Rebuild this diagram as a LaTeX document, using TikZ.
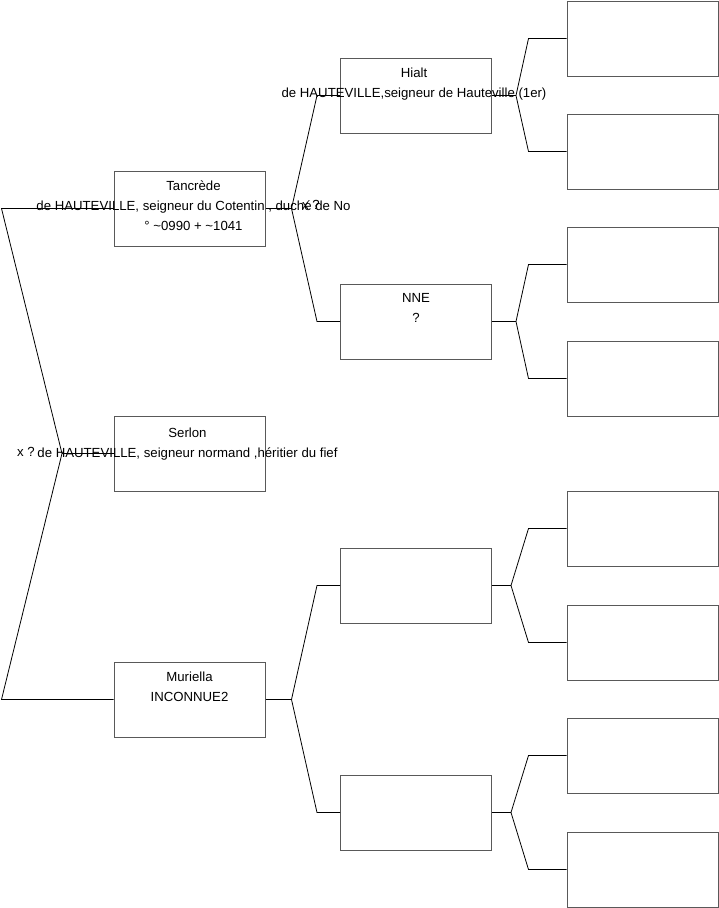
\documentclass[tikz,border=0pt]{standalone}
\usepackage{fontspec}
\setmainfont{Liberation Sans}
\usetikzlibrary{positioning}
\tikzset{
  personbox/.style={draw=black!65, line width=1pt, minimum width=151pt, minimum height=75pt, inner sep=0pt},
  persontext/.style={anchor=base, align=center, inner sep=0pt, font=\fontsize{13.2}{20}\selectfont},
  spouselabel/.style={inner sep=0pt, font=\fontsize{13.2}{14}\selectfont},
  linkline/.style={line width=0.8pt}
}

\begin{document}
\begin{tikzpicture}[x=1pt, y=-1pt]
  \useasboundingbox (0,0) rectangle (719,908);
  % generation 1
  \node[personbox] (tan) at (189.5,208.5) {};
  \node[personbox] (ser) at (189.5,453.5) {};
  \node[personbox] (mur) at (189.5,699.5) {};
  % generation 2
  \node[personbox] (hia) at (416,95.5) {};
  \node[personbox] (nne) at (416,321.5) {};
  \node[personbox] (mfa) at (416,585.5) {};
  \node[personbox] (mmo) at (416,812.5) {};
  % generation 3
  \node[personbox] (a1) at (642.5,38.5) {};
  \node[personbox] (a2) at (642.5,151.5) {};
  \node[personbox] (a3) at (642.5,264.5) {};
  \node[personbox] (a4) at (642.5,378.5) {};
  \node[personbox] (a5) at (642.5,528.5) {};
  \node[personbox] (a6) at (642.5,642.5) {};
  \node[personbox] (a7) at (642.5,755.5) {};
  \node[personbox] (a8) at (642.5,869.5) {};

  % links
  \coordinate (j0) at (62,453.5);
  \draw[linkline] (ser.west) -- (j0);
  \draw[linkline] (tan.west) -- ([xshift=-112pt]tan.west) -- (j0) -- ([xshift=-112pt]mur.west) -- (mur.west);

  \coordinate (j1) at ([xshift=26pt]tan.east);
  \draw[linkline] (tan.east) -- (j1);
  \draw[linkline] (hia.west) -- ([xshift=-23pt]hia.west) -- (j1) -- ([xshift=-23pt]nne.west) -- (nne.west);

  \coordinate (j2) at ([xshift=26pt]mur.east);
  \draw[linkline] (mur.east) -- (j2);
  \draw[linkline] (mfa.west) -- ([xshift=-23pt]mfa.west) -- (j2) -- ([xshift=-23pt]mmo.west) -- (mmo.west);

  \coordinate (j3) at ([xshift=24pt]hia.east);
  \draw[linkline] (hia.east) -- (j3);
  \draw[linkline] (a1.west) -- ([xshift=-38pt]a1.west) -- (j3) -- ([xshift=-38pt]a2.west) -- (a2.west);

  \coordinate (j4) at ([xshift=24pt]nne.east);
  \draw[linkline] (nne.east) -- (j4);
  \draw[linkline] (a3.west) -- ([xshift=-38pt]a3.west) -- (j4) -- ([xshift=-38pt]a4.west) -- (a4.west);

  \coordinate (j5) at ([xshift=19pt]mfa.east);
  \draw[linkline] (mfa.east) -- (j5);
  \draw[linkline] (a5.west) -- ([xshift=-38pt]a5.west) -- (j5) -- ([xshift=-38pt]a6.west) -- (a6.west);

  \coordinate (j6) at ([xshift=19pt]mmo.east);
  \draw[linkline] (mmo.east) -- (j6);
  \draw[linkline] (a7.west) -- ([xshift=-38pt]a7.west) -- (j6) -- ([xshift=-38pt]a8.west) -- (a8.west);

  % names (base = last line)
  \node[persontext] (tant) at ([xshift=4pt, yshift=-59.5pt]tan.north) {Tancrède\\de HAUTEVILLE, seigneur du Cotentin , duché de No\\° \textasciitilde0990 + \textasciitilde1041};
  \node[persontext] (sert) at ([xshift=-2pt, yshift=-41.5pt]ser.north) {Serlon\\de HAUTEVILLE, seigneur normand ,héritier du fief};
  \node[persontext] (murt) at ([yshift=-39.5pt]mur.north) {Muriella\\INCONNUE2};
  \node[persontext] (hiat) at ([xshift=-2pt, yshift=-39.5pt]hia.north) {Hialt\\de HAUTEVILLE,seigneur de Hauteville (1er)};
  \node[persontext] (nnet) at ([yshift=-38.5pt]nne.north) {NNE\\?};
  \node[spouselabel] (tanx) at (311,205) {x ?};
  \node[spouselabel, anchor=east] (serx) at (35,452) {x ?};
\end{tikzpicture}
\end{document}
